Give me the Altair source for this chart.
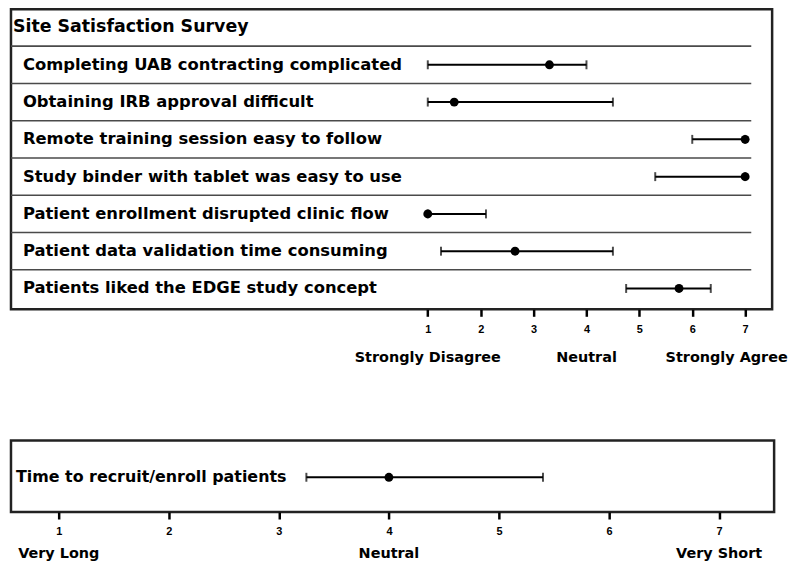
import altair as alt
import pandas as pd

# ---------------- data ----------------
header = "Site Satisfaction  Survey"
items = [
    "Completing UAB contracting complicated",
    "Obtaining IRB approval difficult",
    "Remote training session easy to follow",
    "Study binder with tablet was easy to use",
    "Patient enrollment disrupted clinic flow",
    "Patient  data validation  time consuming",
    "Patients liked the EDGE study concept",
]
rows = [1, 2, 3, 4, 5, 6, 7]
low = [1.0, 1.0, 6.0, 5.3, 1.0, 1.25, 4.75]
mid = [3.3, 1.5, 7.0, 7.0, 1.0, 2.65, 5.75]
high = [4.0, 4.5, 7.0, 7.0, 2.1, 4.5, 6.35]
tick_values = [1, 2, 3, 4, 5, 6, 7]
top_anchor_labels = ["Strongly  Disagree", "Neutral", "Strongly  Agree"]
top_anchor_x = [1, 4, 6.65]

bottom_item = ["Time to recruit/enroll patients"]
bottom_low = [3.25]
bottom_mid = [4.0]
bottom_high = [5.4]
bottom_anchor_labels = ["Very Long", "Neutral", "Very  Short"]
bottom_anchor_x = [1, 4, 7]

FONT = "DejaVu Sans"
TICKFONT = "Liberation Sans"

df = pd.DataFrame({"item": items, "row": rows, "low": low, "mid": mid, "high": high})
sep = pd.DataFrame({"row": [r - 0.5 for r in rows]})
hdr = pd.DataFrame({"label": [header], "row": [0]})
anc = pd.DataFrame({"label": top_anchor_labels, "x": top_anchor_x})

bdf = pd.DataFrame({"item": bottom_item, "low": bottom_low, "mid": bottom_mid, "high": bottom_high})
banc = pd.DataFrame({"label": bottom_anchor_labels, "x": bottom_anchor_x})


def xaxis():
    return alt.Axis(values=tick_values, title=None, domain=False, grid=False,
                    ticks=True, tickSize=7, tickWidth=2.5, tickColor="black",
                    tickOpacity=1,
                    labelFont=TICKFONT, labelFontWeight="bold", labelFontSize=11,
                    labelColor="black", labelPadding=7)


# ---------------- top panel ----------------
TW, TH = 766, 302
xs = alt.Scale(domain=[-6.88, 7.51], nice=False, zero=False)
ys = alt.Scale(domain=[-0.49, 7.56], reverse=True, nice=False, zero=False)
Y = alt.Y("row:Q", scale=ys, axis=None)

seps = alt.Chart(sep).mark_rule(color="#4a4a4a", strokeWidth=1.6).encode(
    x=alt.value(0), x2=alt.value(745), y=Y)
head = alt.Chart(hdr).mark_text(align="left", baseline="middle", font=FONT,
                                fontWeight="bold", fontSize=17.5, color="black").encode(
    x=alt.value(2), y=Y, text="label:N")
labels = alt.Chart(df).mark_text(align="left", baseline="middle", font=FONT,
                                 fontWeight="bold", fontSize=16.5, color="black").encode(
    x=alt.value(12), y=Y, text="item:N")
bars = alt.Chart(df).mark_rule(color="black", strokeWidth=2).encode(
    x=alt.X("low:Q", scale=xs, axis=xaxis()), x2="high:Q", y=Y)
caps_l = alt.Chart(df).mark_tick(color="black", orient="vertical", size=9, thickness=2).encode(
    x=alt.X("low:Q", scale=xs, axis=xaxis()), y=Y)
caps_h = alt.Chart(df).mark_tick(color="black", orient="vertical", size=9, thickness=2).encode(
    x=alt.X("high:Q", scale=xs, axis=xaxis()), y=Y)
dots = alt.Chart(df).mark_circle(color="black", opacity=1, size=80).encode(
    x=alt.X("mid:Q", scale=xs, axis=xaxis()), y=Y)
anchors = alt.Chart(anc).mark_text(align="center", baseline="middle", font=FONT,
                                   fontWeight="bold", fontSize=14.5, color="black").encode(
    x=alt.X("x:Q", scale=xs, axis=xaxis()), y=alt.value(351), text="label:N")

top = alt.layer(seps, head, labels, bars, caps_l, caps_h, dots, anchors).properties(
    width=TW, height=TH)

# ---------------- bottom panel ----------------
BW, BH = 768, 72
bxs = alt.Scale(domain=[0.566, 7.5], nice=False, zero=False)
YC = alt.value(37)

blabel = alt.Chart(bdf).mark_text(align="left", baseline="middle", font=FONT,
                                  fontWeight="bold", fontSize=16, color="black").encode(
    x=alt.value(5), y=YC, text="item:N")
bbar = alt.Chart(bdf).mark_rule(color="black", strokeWidth=2).encode(
    x=alt.X("low:Q", scale=bxs, axis=xaxis()), x2="high:Q", y=YC)
bcap_l = alt.Chart(bdf).mark_tick(color="black", orient="vertical", size=9, thickness=2).encode(
    x=alt.X("low:Q", scale=bxs, axis=xaxis()), y=YC)
bcap_h = alt.Chart(bdf).mark_tick(color="black", orient="vertical", size=9, thickness=2).encode(
    x=alt.X("high:Q", scale=bxs, axis=xaxis()), y=YC)
bdot = alt.Chart(bdf).mark_circle(color="black", opacity=1, size=80).encode(
    x=alt.X("mid:Q", scale=bxs, axis=xaxis()), y=YC)
banchors = alt.Chart(banc).mark_text(align="center", baseline="middle", font=FONT,
                                     fontWeight="bold", fontSize=14.5, color="black").encode(
    x=alt.X("x:Q", scale=bxs, axis=xaxis()), y=alt.value(114), text="label:N")

bottom = alt.layer(blabel, bbar, bcap_l, bcap_h, bdot, banchors).properties(
    width=BW, height=BH)

chart = alt.vconcat(top, bottom, spacing=132, bounds="flush").properties(
    padding={"top": -2.5, "bottom": -2, "left": 0, "right": 0}, background="white"
).configure_view(stroke="#222222", strokeWidth=2.5)

chart.save("out.html", embed_options={"renderer": "svg", "actions": False})
